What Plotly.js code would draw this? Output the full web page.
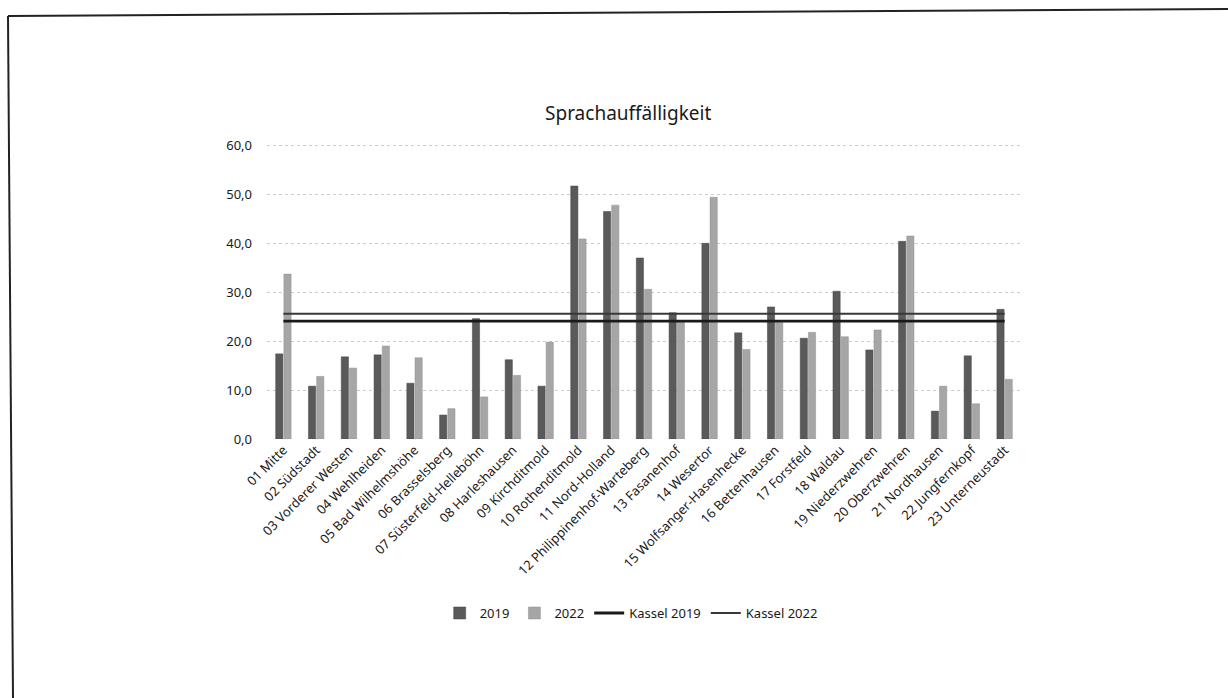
<!DOCTYPE html>
<html>
<head>
<meta charset="utf-8">
<script src="https://cdn.plot.ly/plotly-3.0.1.min.js"></script>
<style>html,body{margin:0;padding:0;background:#fff;}#chart{width:1228px;height:698px;}</style>
</head>
<body>
<div id="chart"></div>
<script>
const categories = ["01 Mitte","02 Südstadt","03 Vorderer Westen","04 Wehlheiden","05 Bad Wilhelmshöhe","06 Brasselsberg","07 Süsterfeld-Helleböhn","08 Harleshausen","09 Kirchditmold","10 Rothenditmold","11 Nord-Holland","12 Philippinenhof-Warteberg","13 Fasanenhof","14 Wesertor","15 Wolfsanger-Hasenhecke","16 Bettenhausen","17 Forstfeld","18 Waldau","19 Niederzwehren","20 Oberzwehren","21 Nordhausen","22 Jungfernkopf","23 Unterneustadt"];
const values2019 = [17.4,10.8,16.8,17.2,11.4,4.9,24.6,16.2,10.8,51.7,46.5,37.0,25.8,40.0,21.7,27.0,20.6,30.2,18.2,40.4,5.7,17.0,26.5];
const values2022 = [33.7,12.8,14.5,19.0,16.6,6.2,8.6,13.0,19.8,40.9,47.8,30.6,23.9,49.4,18.3,23.8,21.8,20.9,22.3,41.5,10.8,7.2,12.2];
const kassel2019 = [24.1,24.1,24.1,24.1,24.1,24.1,24.1,24.1,24.1,24.1,24.1,24.1,24.1,24.1,24.1,24.1,24.1,24.1,24.1,24.1,24.1,24.1,24.1];
const kassel2022 = [25.6,25.6,25.6,25.6,25.6,25.6,25.6,25.6,25.6,25.6,25.6,25.6,25.6,25.6,25.6,25.6,25.6,25.6,25.6,25.6,25.6,25.6,25.6];
const yTicks = [0,10,20,30,40,50,60];

const font = "Noto Sans, Open Sans, sans-serif";

const traces = [
  {type:'bar', name:'2019', x:categories, y:values2019, marker:{color:'#5a5a5a', line:{color:'#444', width:0.5}}},
  {type:'bar', name:'2022', x:categories, y:values2022, marker:{color:'#a6a6a6', line:{color:'#909090', width:0.5}}},
  {type:'scatter', mode:'lines', name:'Kassel 2019', x:categories, y:kassel2019, line:{color:'#1a1a1a', width:2.8}},
  {type:'scatter', mode:'lines', name:'Kassel 2022', x:categories, y:kassel2022, line:{color:'#383838', width:2.2}}
];

const layout = {
  width:1228, height:698,
  margin:{l:267, r:207, t:143, b:259},
  paper_bgcolor:'#fff', plot_bgcolor:'#fff',
  separators:',.',
  font:{family:font, color:'#1a1a1a', size:13},
  title:{text:'Sprachauffälligkeit', font:{size:19, color:'#1a1a1a', family:font}, xref:'paper', x:0.479, xanchor:'center', yref:'container', y:1-113/698, yanchor:'middle'},
  barmode:'group', bargap:0.5, bargroupgap:0.12,
  xaxis:{type:'category', tickangle:-45, showgrid:false, showline:false, zeroline:false, ticks:'', tickfont:{size:13, color:'#1a1a1a', family:font}},
  yaxis:{range:[0,60.5], tickvals:yTicks, tickformat:'.1f', showgrid:true, gridcolor:'#cccccc', griddash:'dot', gridwidth:1, zeroline:false, showline:false, ticks:'', ticklabelstandoff:14, tickfont:{size:13, color:'#1a1a1a', family:font}},
  legend:{orientation:'h', x:0.483, xanchor:'center', y:-0.588, yanchor:'middle', font:{size:13, color:'#1a1a1a', family:font}, itemwidth:30, traceorder:'normal'},
  showlegend:true,
  shapes:[
    {type:'line', xref:'paper', yref:'paper', x0:(8-267)/754, y0:(439-16)/296, x1:(1228-267)/754, y1:(439-9)/296, line:{color:'#222', width:2}},
    {type:'line', xref:'paper', yref:'paper', x0:(8-267)/754, y0:(439-16)/296, x1:(13-267)/754, y1:(439-698)/296, line:{color:'#222', width:2}}
  ]
};

Plotly.newPlot('chart', traces, layout, {displayModeBar:false, staticPlot:true});
</script>
</body>
</html>
